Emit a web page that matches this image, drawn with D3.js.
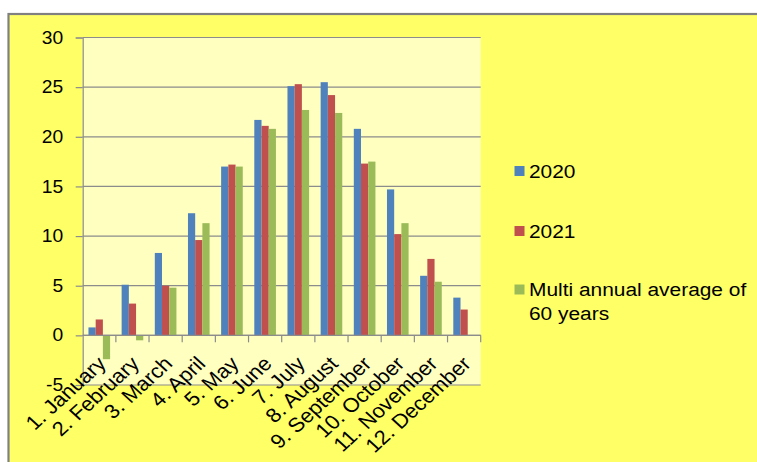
<!DOCTYPE html>
<html>
<head>
<meta charset="utf-8">
<script src="https://cdn.jsdelivr.net/npm/d3@7"></script>
<style>
  html, body { margin: 0; padding: 0; background: #ffffff; }
  svg { display: block; }
  text { font-family: "Liberation Sans", Arial, sans-serif; fill: #000; }
</style>
</head>
<body>
<svg id="chart" width="757" height="462"></svg>
<script>
const categories = ["1. January", "2. February", "3. March", "4. April", "5. May", "6. June",
  "7. July", "8. August", "9. September", "10. October", "11. November", "12. December"];
const seriesNames = ["2020", "2021", "Multi annual average of 60 years"];
const values2020 = [0.8, 5.1, 8.3, 12.3, 17.0, 21.7, 25.1, 25.5, 20.8, 14.7, 6.0, 3.8];
const values2021 = [1.6, 3.2, 5.0, 9.6, 17.2, 21.1, 25.3, 24.2, 17.3, 10.2, 7.7, 2.6];
const valuesAvg = [-2.4, -0.5, 4.8, 11.3, 17.0, 20.8, 22.7, 22.4, 17.5, 11.3, 5.4, null];
const yTicks = [-5, 0, 5, 10, 15, 20, 25, 30];
const colors = ["#4F81BD", "#C0504D", "#9BBB59"];

const allSeries = [values2020, values2021, valuesAvg];
const SX = 1.1; // horizontal stretch of the original picture's text

const svg = d3.select("#chart");

// outer chart area
svg.append("rect")
  .attr("x", 8.5).attr("y", 14).attr("width", 770).attr("height", 470)
  .attr("fill", "#FFFF66").attr("stroke", "#808080").attr("stroke-width", 2.2);

const plot = { left: 82.7, right: 480.7, top: 37.5, bottom: 385 };

const y = d3.scaleLinear().domain([-5, 30]).range([plot.bottom, plot.top]);
const x0 = d3.scaleBand().domain(categories).range([plot.left, plot.right])
  .paddingInner(0.3478).paddingOuter(0.1739);
const x1 = d3.scaleBand().domain(d3.range(3)).range([0, x0.bandwidth()]);
const cat = d3.scaleBand().domain(categories).range([plot.left, plot.right]);

// plot area
svg.append("rect")
  .attr("x", plot.left).attr("y", plot.top)
  .attr("width", plot.right - plot.left).attr("height", plot.bottom - plot.top)
  .attr("fill", "#FFFFC0");

// gridlines
svg.append("g").selectAll("line").data(yTicks).join("line")
  .attr("x1", plot.left).attr("x2", plot.right)
  .attr("y1", d => y(d)).attr("y2", d => y(d))
  .attr("stroke", "#8C8C8C").attr("stroke-width", 1.2);

// bars
const groups = svg.append("g").selectAll("g").data(categories).join("g")
  .attr("transform", d => `translate(${x0(d)},0)`);
groups.selectAll("rect")
  .data((d, i) => allSeries.map((s, k) => ({ k, v: s[i] })).filter(e => e.v !== null))
  .join("rect")
  .attr("x", d => x1(d.k))
  .attr("width", x1.bandwidth())
  .attr("y", d => y(Math.max(0, d.v)))
  .attr("height", d => Math.abs(y(d.v) - y(0)))
  .attr("fill", d => colors[d.k]);

// y axis
const yAxis = d3.axisLeft(y).tickValues(yTicks).tickSize(7).tickPadding(12).tickFormat(d => String(d));
const gy = svg.append("g").attr("transform", `translate(${plot.left},0)`).call(yAxis);
gy.select(".domain").attr("stroke", "#8C8C8C").attr("stroke-width", 1.2);
gy.selectAll(".tick line").attr("stroke", "#8C8C8C").attr("stroke-width", 1.2);
gy.selectAll(".tick text")
  .attr("font-size", 17.5)
  .attr("font-family", "Liberation Sans, Arial, sans-serif")
  .attr("fill", "#000")
  .attr("x", -19.5 / SX)
  .attr("transform", `scale(${SX},1)`);

// x axis at zero
const boundaries = d3.range(categories.length + 1).map(i => plot.left + i * cat.step());
svg.append("line")
  .attr("x1", plot.left).attr("x2", plot.right)
  .attr("y1", y(0)).attr("y2", y(0))
  .attr("stroke", "#8C8C8C").attr("stroke-width", 1.2);
svg.append("g").selectAll("line").data(boundaries.slice(1)).join("line")
  .attr("x1", d => d).attr("x2", d => d)
  .attr("y1", y(0)).attr("y2", y(0) + 7)
  .attr("stroke", "#8C8C8C").attr("stroke-width", 1.2);

// category labels
svg.append("g").selectAll("text").data(categories).join("text")
  .attr("transform", d => `translate(${cat(d) + cat.bandwidth() / 2 + 8},365) scale(${SX},1) rotate(-45)`)
  .attr("text-anchor", "end")
  .attr("font-size", 20)
  .text(d => d);

// legend
const legendItems = [
  { name: "2020", color: colors[0], lines: ["2020"], cy: 171 },
  { name: "2021", color: colors[1], lines: ["2021"], cy: 231 },
  { name: seriesNames[2], color: colors[2], lines: ["Multi annual average of", "60 years"], cy: 289.5 }
];
const lg = svg.append("g");
legendItems.forEach(it => {
  lg.append("rect").attr("x", 514.5).attr("y", it.cy - 5).attr("width", 10).attr("height", 10)
    .attr("fill", it.color);
  const t = lg.append("text")
    .attr("transform", `translate(529,${it.cy}) scale(${SX},1)`)
    .attr("font-size", 19)
    .attr("dominant-baseline", "central");
  it.lines.forEach((l, i) => {
    t.append("tspan").attr("x", 0).attr("dy", i === 0 ? 0 : 23.5).text(l);
  });
});
</script>
</body>
</html>
